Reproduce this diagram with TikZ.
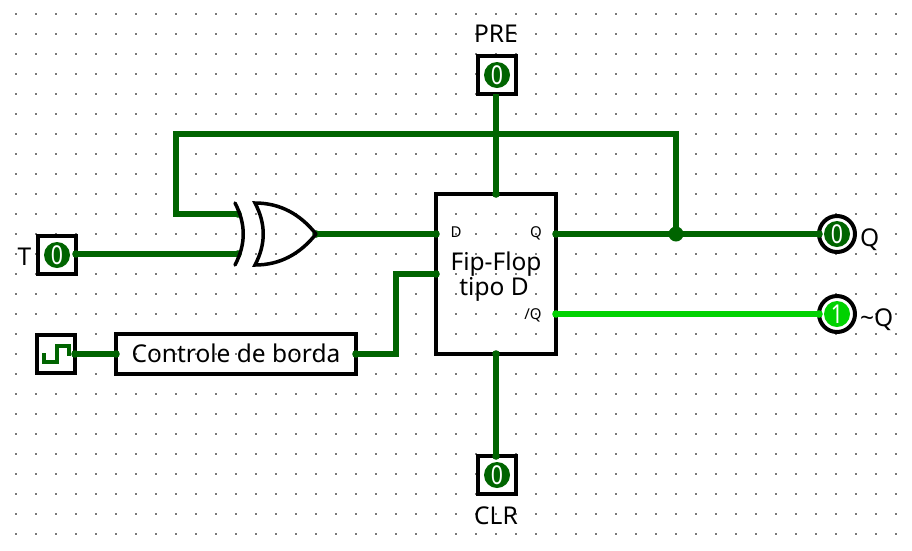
\documentclass[tikz,border=0pt]{standalone}
\usepackage{graphicx}
\usepackage{fontspec}
\setmainfont{Noto Sans}
\definecolor{wiredark}{RGB}{0,100,0}
\definecolor{wirelight}{RGB}{0,210,0}
\definecolor{griddot}{RGB}{120,120,120}
\newcommand{\fs}[1]{\fontsize{#1}{#1}\selectfont}
\newcommand{\digit}[1]{\scalebox{0.82}[1]{#1}}
\tikzset{
  wire/.style={line width=5.5pt,wiredark,line join=miter},
  wirehi/.style={line width=5.5pt,wirelight},
  pinbox/.style={draw=black,line width=4pt,minimum size=38pt,inner sep=0pt,outer sep=0pt},
  block/.style={draw=black,line width=4pt,inner sep=0pt,outer sep=0pt},
  ledoff/.style={circle,fill=wiredark,text=white,minimum size=26pt,inner sep=0pt,font=\fs{26}},
  ledon/.style={circle,fill=wirelight,text=white,minimum size=26pt,inner sep=0pt,font=\fs{26}},
  outring/.style={circle,draw=black,line width=4pt,minimum size=36pt,inner sep=0pt,outer sep=0pt},
  lab/.style={text=black,inner sep=0pt,font=\fs{24.5},anchor=base},
  portlab/.style={text=black,inner sep=0pt,font=\fs{15},anchor=base},
  gate/.style={draw=black,line width=3.5pt,line cap=round}
}
\begin{document}
\begin{tikzpicture}[x=1pt,y=-1pt]
\useasboundingbox (0,0) rectangle (912,550);
\fill[white] (0,0) rectangle (912,550);
\foreach \i in {0,...,44}{\foreach \j in {0,...,26}{
  \fill[griddot] ({15+20*\i},{13+20*\j}) rectangle ++(2,2);
}}
% junctions and free wire corners
\coordinate (fbA) at (176,134);
\coordinate (fbB) at (676,134);
\coordinate (fbC) at (176,214);
\coordinate (xa) at (238,214);
\coordinate (xb) at (238,254);
\coordinate (xo) at (316,234);
\coordinate (jn) at (676,234);
\coordinate (bendA) at (396,354);
\coordinate (bendB) at (396,274);
% blocks
\node[pinbox] (T) at (57,255) {};
\node[pinbox] (PRE) at (497,75) {};
\node[pinbox] (CLR) at (497,475) {};
\node[pinbox] (clk) at (56,354) {};
\node[block,minimum width=240pt,minimum height=40pt] (ctl) at (236,354) {};
\node[block,minimum width=120pt,minimum height=160pt] (ff) at (496,274) {};
\node[outring] (Qo) at (837,234) {};
\node[outring] (Qn) at (837,314) {};
% ports on the flip-flop
\coordinate (ffD) at (436,234);
\coordinate (ffC) at (436,274);
\coordinate (ffQ) at (556,234);
\coordinate (ffNQ) at (556,314);
\coordinate (ffT) at (496,194);
\coordinate (ffB) at (496,354);
\coordinate (preW) at (496,94);
\coordinate (clrW) at (496,456);
\coordinate (tW) at (76,254);
% wires
\draw[wire] (jn) -- (fbB) -- (fbA) -- (fbC) -- (xa);
\draw[wire] (tW) -- (xb);
\draw[wire] (xo) -- (ffD);
\draw[wire] (ctl.east) -- (bendA) -- (bendB) -- (ffC);
\draw[wire] (clk.east) -- (ctl.west);
\draw[wire] (preW) -- (ffT);
\draw[wire] (ffB) -- (clrW);
\draw[wire] (ffQ) -- (Qo.west);
\draw[wirehi] (ffNQ) -- (Qn.west);
\fill[wiredark] (jn) circle (7.5pt);
% wire end dots
\foreach \p in {xa,xb,ffD,ffC,ffQ,ffT,ffB,clrW,xo,ctl.east,ctl.west,clk.east,Qo.west,tW}{\fill[wiredark] (\p) circle (3.8pt);}
\foreach \p in {ffNQ,Qn.west}{\fill[wirelight] (\p) circle (3.8pt);}
% XOR gate
\draw[gate] (235,203) .. controls (246,224) and (246,244) .. (235,265);
\draw[gate,line join=miter] (xo) .. controls (300,214) and (280,203) .. (255,203)
  .. controls (266,224) and (266,244) .. (255,265)
  .. controls (280,265) and (300,254) .. (xo);
% clock waveform
\draw[wiredark,line width=3.5pt,line join=miter] (44,353) -- (44,362) -- (57,362) -- (57,346) -- (69,346) -- (69,356);
% pin values
\node[ledoff] at (T.center) {\digit{0}};
\node[ledoff] at (PRE.center) {\digit{0}};
\node[ledoff] at (CLR.center) {\digit{0}};
\node[ledoff] at (Qo.center) {\digit{0}};
\node[ledon] at (Qn.center) {\digit{1}};
% labels
\node[lab,anchor=base east] at (31.5,265) {T};
\node[lab] at (496,42) {PRE};
\node[lab] at (496,524) {CLR};
\node[lab,anchor=base west] at (860,246) {Q};
\node[lab,anchor=base west] at (860,326) {\char`\~Q};
\node[lab] at (236,362) {Controle de borda};
\node[lab] at (496,270) {Fip-Flop};
\node[lab] at (494,295) {tipo D};
\node[portlab] at (456,237) {D};
\node[portlab] at (536,237) {Q};
\node[portlab] at (533,319) {/Q};
\end{tikzpicture}
\end{document}
